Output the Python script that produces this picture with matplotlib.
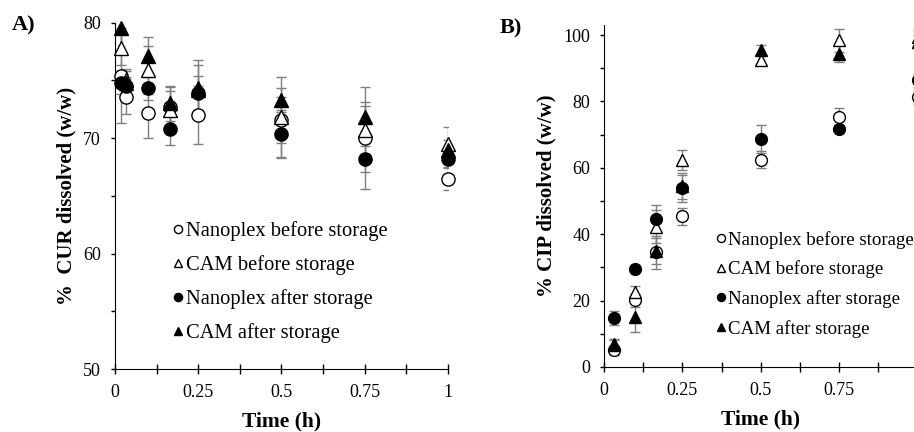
import matplotlib.pyplot as plt
from matplotlib.ticker import MultipleLocator

plt.rcParams['font.family'] = ['Liberation Serif', 'DejaVu Serif']

labels = ["Nanoplex before storage", "CAM before storage",
          "Nanoplex after storage", "CAM after storage"]

# panel A - curcumin
time_a = [1/60, 2/60, 6/60, 10/60, 0.25, 0.5, 0.75, 1.0]
cur_np_before = [75.4, 73.6, 72.2, 72.7, 72.0, 71.6, 70.0, 66.5]
cur_cam_before = [77.8, 75.0, 75.9, 72.4, 74.2, 71.8, 70.7, 69.5]
cur_np_after = [74.8, 74.5, 74.3, 70.8, 73.9, 70.4, 68.2, 68.2]
cur_cam_after = [79.5, 74.8, 77.1, 73.0, 74.3, 73.3, 71.8, 69.0]
cur_np_before_err = [4.1, 1.5, 2.2, 1.7, 2.5, 2.0, 4.4, 1.0]
cur_cam_before_err = [1.5, 1.0, 2.1, 1.7, 2.1, 3.5, 2.1, 1.5]
cur_np_after_err = [1.0, 0.8, 1.0, 1.4, 1.5, 2.0, 1.1, 0.8]
cur_cam_after_err = [2.0, 1.0, 1.7, 1.5, 2.5, 1.0, 1.3, 0.8]

# panel B - ciprofloxacin
time_b = [2/60, 6/60, 10/60, 0.25, 0.5, 0.75, 1.0]
cip_np_before = [5.1, 20.1, 34.6, 45.4, 62.5, 75.4, 81.2]
cip_cam_before = [6.5, 22.5, 42.3, 62.3, 92.6, 98.4, 99.5]
cip_np_after = [14.8, 29.6, 44.7, 53.8, 68.7, 71.7, 86.4]
cip_cam_after = [7.0, 15.0, 35.0, 54.5, 95.4, 94.4, 98.0]
cip_np_before_err = [1.5, 2.0, 5.0, 2.5, 2.7, 2.5, 2.0]
cip_cam_before_err = [1.5, 2.0, 5.0, 3.0, 1.5, 3.5, 2.0]
cip_np_after_err = [2.2, 1.0, 4.0, 4.0, 4.2, 1.0, 2.0]
cip_cam_after_err = [1.5, 4.5, 4.0, 4.0, 1.5, 2.5, 2.0]

styles = [dict(marker='o', mfc='white'), dict(marker='^', mfc='white'),
          dict(marker='o', mfc='black'), dict(marker='^', mfc='black')]

fig = plt.figure(figsize=(9.14, 4.32), dpi=100)
ax1 = fig.add_axes([0.1258, 0.1458, 0.364, 0.8017])
ax2 = fig.add_axes([0.6608, 0.1505, 0.3432, 0.7915])


def draw(ax, t, series, errs, ms):
    for y, e, st in zip(series, errs, styles):
        ax.errorbar(t, y, yerr=e, fmt='none', ecolor='#7f7f7f', elinewidth=1.0,
                    capsize=3.5, capthick=1.0, zorder=2)
    handles = []
    for y, st, lab in zip(series, styles, labels):
        h, = ax.plot(t, y, linestyle='none', marker=st['marker'], mfc=st['mfc'],
                     mec='black', mew=1.0, ms=ms, label=lab, zorder=3, clip_on=False)
        handles.append(h)
    for s in ['top', 'right']:
        ax.spines[s].set_visible(False)
    ax.set_xlim(0, 1)
    ax.xaxis.set_major_locator(MultipleLocator(0.25))
    ax.xaxis.set_minor_locator(MultipleLocator(0.125))
    ax.tick_params(axis='both', which='both', direction='out', length=3, width=1,
                   labelsize=13)
    ax.tick_params(axis='y', which='major', pad=7)
    ax.tick_params(axis='x', which='both', direction='inout', length=7, pad=7)
    ax.set_xlabel("Time (h)", fontsize=15.5, fontweight='bold', labelpad=8)
    return handles


h1 = draw(ax1, time_a, [cur_np_before, cur_cam_before, cur_np_after, cur_cam_after],
          [cur_np_before_err, cur_cam_before_err, cur_np_after_err, cur_cam_after_err], 9.5)
ax1.set_ylim(50, 80)
ax1.yaxis.set_major_locator(MultipleLocator(10))
ax1.yaxis.set_minor_locator(MultipleLocator(5))
ax1.set_xticks([0, 0.25, 0.5, 0.75, 1])
ax1.set_xticklabels(['0', '0.25', '0.5', '0.75', '1'])
ax1.set_ylabel("%  CUR dissolved (w/w)", fontsize=15, fontweight='bold', labelpad=5)
ax1.legend(handles=h1, loc='upper left', bbox_to_anchor=(0.145, 0.45), frameon=False,
           fontsize=14.8, markerscale=0.62, handlelength=0.6, handletextpad=0.12,
           labelspacing=0.68, borderaxespad=0)

h2 = draw(ax2, time_b, [cip_np_before, cip_cam_before, cip_np_after, cip_cam_after],
          [cip_np_before_err, cip_cam_before_err, cip_np_after_err, cip_cam_after_err], 8.5)
ax2.set_ylim(0, 103)
ax2.set_yticks([0, 20, 40, 60, 80, 100])
ax2.yaxis.set_minor_locator(MultipleLocator(10))
ax2.set_xticks([0, 0.25, 0.5, 0.75])
ax2.set_xticklabels(['0', '0.25', '0.5', '0.75'])
ax2.set_ylabel("% CIP dissolved (w/w)", fontsize=15, fontweight='bold', labelpad=5)
ax2.legend(handles=h2, loc='upper left', bbox_to_anchor=(0.33, 0.42), frameon=False,
           fontsize=13.6, markerscale=0.68, handlelength=0.6, handletextpad=0.08,
           labelspacing=0.62, borderaxespad=0)

fig.text(0.013, 0.94, "A)", fontsize=16, fontweight='bold', va='center')
fig.text(0.547, 0.935, "B)", fontsize=16, fontweight='bold', va='center')

fig.savefig("out.png", dpi=100)
